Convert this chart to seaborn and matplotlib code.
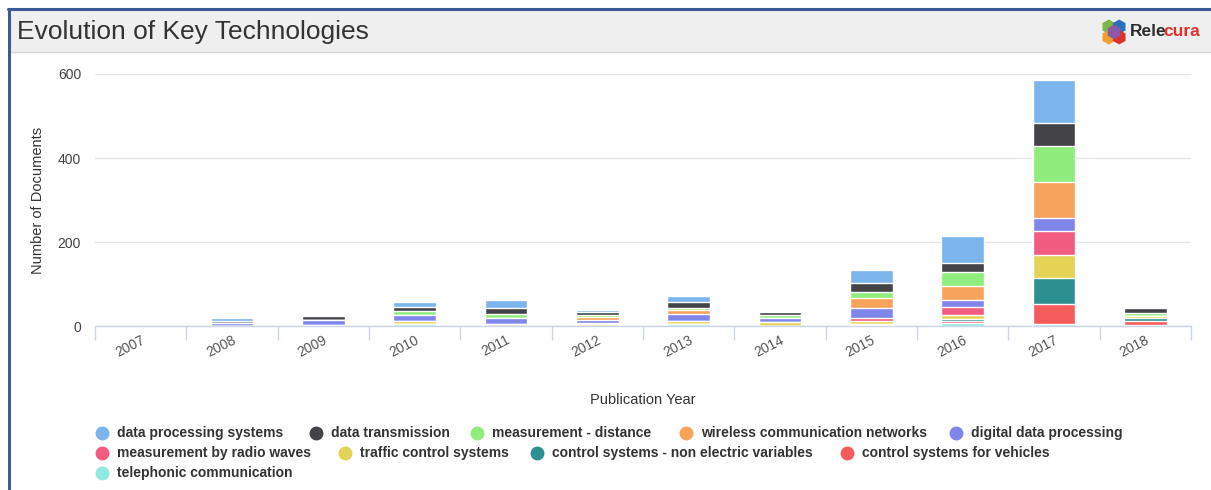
import numpy as np
import pandas as pd
import seaborn as sns
import matplotlib.pyplot as plt
from matplotlib.patches import Rectangle, RegularPolygon
from matplotlib.lines import Line2D

years = [str(y) for y in range(2007, 2019)]

# stacking order: first entry sits on top (Highcharts style)
series_names = [
    "data processing systems",
    "data transmission",
    "measurement - distance",
    "wireless communication networks",
    "digital data processing",
    "measurement by radio waves",
    "traffic control systems",
    "control systems - non electric variables",
    "control systems for vehicles",
    "telephonic communication",
]
data_processing = [0, 6, 3, 10, 17, 5, 15, 0, 31, 63, 102, 0]
data_transmission = [0, 6, 10, 11, 16, 8, 13, 6, 20, 23, 55, 12]
measurement_distance = [0, 0, 0, 8, 9, 5, 5, 9, 15, 32, 85, 8]
wireless_networks = [0, 0, 0, 0, 0, 6, 11, 0, 24, 35, 85, 0]
digital_processing = [0, 7, 12, 15, 14, 8, 17, 8, 24, 15, 31, 0]
radio_waves = [0, 0, 0, 0, 0, 3, 0, 0, 8, 20, 58, 0]
traffic_control = [0, 0, 2, 8, 5, 4, 7, 10, 6, 10, 54, 5]
control_non_electric = [0, 0, 0, 0, 0, 0, 0, 0, 0, 5, 62, 7]
control_vehicles = [0, 0, 0, 0, 0, 0, 0, 0, 3, 5, 49, 8]
telephonic = [0, 0, 0, 4, 0, 0, 4, 0, 2, 6, 4, 3]

colors = ["#7cb5ec", "#434348", "#90ed7d", "#f7a35c", "#8085e9",
          "#f15c80", "#e4d354", "#2b908f", "#f45b5b", "#91e8e1"]

df = pd.DataFrame({
    "year": years,
    series_names[0]: data_processing,
    series_names[1]: data_transmission,
    series_names[2]: measurement_distance,
    series_names[3]: wireless_networks,
    series_names[4]: digital_processing,
    series_names[5]: radio_waves,
    series_names[6]: traffic_control,
    series_names[7]: control_non_electric,
    series_names[8]: control_vehicles,
    series_names[9]: telephonic,
})

sns.set_theme(style="white")
plt.rcParams["font.family"] = ["Liberation Sans", "DejaVu Sans"]

W, H = 1211, 490
fig = plt.figure(figsize=(W / 100, H / 100), dpi=100)


def fx(x):
    return x / W


def fy(y):
    return 1 - y / H


# frame + title bar
fig.patches.append(Rectangle((fx(10), fy(52)), 1, fy(11) - fy(52), transform=fig.transFigure,
                             facecolor="#efefef", edgecolor="none", zorder=0))
fig.add_artist(Line2D([fx(10), 1], [fy(52), fy(52)], color="#d6d6d6", lw=1))
fig.add_artist(Line2D([fx(8), 1], [fy(9), fy(9)], color="#3c5a9a", lw=2.2))
fig.add_artist(Line2D([fx(9), fx(9)], [fy(9), 0], color="#3c5a9a", lw=2.2))
fig.text(fx(17), fy(32), "Evolution of Key Technologies", fontsize=19,
         color="#333333", va="center", ha="left")

# logo
lax = fig.add_axes([fx(1101), fy(45), fx(26), 26 / H], zorder=5)
lax.set_xlim(-1, 1)
lax.set_ylim(-1, 1)
lax.set_aspect("equal")
lax.axis("off")
for (cx, cy), c in zip([(-0.4, 0.4), (0.4, 0.4), (-0.4, -0.4), (0.4, -0.4), (0, 0)],
                       ["#7ab648", "#2a6fb7", "#f0a030", "#e0312b", "#8a5aa8"]):
    lax.add_patch(RegularPolygon((cx, cy), 6, radius=0.5, color=c))
fig.text(fx(1130), fy(32), "Rele", fontsize=12.5, fontweight="bold", color="#2d2d2d",
         va="center", ha="left")
fig.text(fx(1163), fy(32), "cura", fontsize=12.5, fontweight="bold", color="#e0312b",
         va="center", ha="left")

# main axes
ax = fig.add_axes([fx(95), fy(326), fx(1191) - fx(95), fy(74) - fy(326)])

for i, name in enumerate(series_names):
    cum = df[series_names[i:]].sum(axis=1)
    sns.barplot(x=df["year"], y=cum, color=colors[i], width=0.47, saturation=1,
                edgecolor="white", linewidth=1, ax=ax, zorder=2)

ax.set_xlim(-0.5, len(years) - 0.5)
ax.set_ylim(0, 600)
ax.set_yticks([0, 200, 400, 600])
ax.yaxis.grid(True, color="#e6e6e6", lw=1)
ax.set_axisbelow(True)
for s in ["top", "right", "left"]:
    ax.spines[s].set_visible(False)
ax.spines["bottom"].set_color("#ccd6eb")
ax.spines["bottom"].set_linewidth(1)

ax.set_xticks(np.arange(-0.5, len(years), 1), minor=True)
ax.tick_params(axis="x", which="minor", length=10, color="#ccd6eb", width=1, bottom=True)
ax.tick_params(axis="x", which="major", length=0, pad=5, labelsize=10, labelcolor="#555555")
ax.tick_params(axis="y", length=0, pad=10, labelsize=10, labelcolor="#444444")
plt.setp(ax.get_xticklabels(), rotation=27, ha="right", rotation_mode="anchor")

ax.set_xlabel("Publication Year", fontsize=10.5, color="#333333", labelpad=24)
ax.set_ylabel("Number of Documents", fontsize=10.5, color="#333333", labelpad=9)

# legend
legend_pos = [
    (102, 433), (316, 433), (477, 433), (686, 433), (956, 433),
    (102, 453), (345, 453), (537, 453), (847, 453),
    (102, 473),
]
for (lx, ly), name, c in zip(legend_pos, series_names, colors):
    fig.add_artist(Line2D([fx(lx)], [fy(ly)], marker="o", markersize=9,
                          markerfacecolor=c, markeredgecolor=c, linestyle="none"))
    fig.text(fx(lx + 15), fy(ly), name, fontsize=10, fontweight="bold",
             color="#333333", va="center", ha="left")

fig.savefig("out.png", dpi=100)
